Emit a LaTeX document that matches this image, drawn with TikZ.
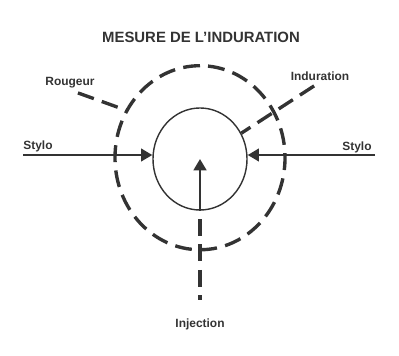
\documentclass[tikz,border=0pt]{standalone}
\usepackage{fontspec}
\setmainfont{Liberation Sans}
\usetikzlibrary{positioning, arrows.meta, shapes.geometric}

\begin{document}
\begin{tikzpicture}[
        x=0.025cm, y=-0.025cm,
        title/.style={font=\fontsize{10.6}{12}\selectfont\bfseries, text=black!80},
        lbl/.style={font=\fontsize{8.5}{10}\selectfont\bfseries, text=black!80, inner sep=1pt},
        zone/.style={ellipse, inner sep=0pt},
        dashline/.style={line width=2.4pt, draw=black!80, dash pattern=on 12pt off 6pt},
        arrow/.style={-{Triangle[length=8pt, width=9pt]}, line width=1.6pt, draw=black!80}
    ]
        \useasboundingbox (0,0) rectangle (399,355);

        % Titre
        \node[title] (titre) at (201,37) {MESURE DE L'INDURATION};

        % Zones
        \node[zone, draw=black!80, line width=1pt, minimum width=2.35cm, minimum height=2.55cm] (wheal) at (200,159) {};
        \node[zone, minimum width=4.25cm, minimum height=4.6cm] (halo) at (200,158) {};
        \draw[dashline] (halo.north) arc[x radius=2.125cm, y radius=2.3cm, start angle=90, end angle=450];

        % Etiquettes
        \node[lbl] (rougeur) at (70,83) {Rougeur};
        \node[lbl] (indur) at (320,76) {Induration};
        \node[lbl] (styloL) at (38,146) {Stylo};
        \node[lbl] (styloR) at (357,147) {Stylo};
        \node[lbl] (inj) at (200,324) {Injection};
        \coordinate (l) at (23,155);
        \coordinate (r) at (375,155);

        % Fleches
        \draw[arrow] (l) -- (l -| wheal.west);
        \draw[arrow] (r) -- (r -| wheal.east);
        \draw[arrow] (wheal.south) -- (wheal.center);

        % Renvois
        \draw[dashline, shorten <=6pt] (rougeur.south) -- (halo.147);
        \draw[dashline, shorten <=5pt] (indur.south) -- (wheal.32);
        \draw[dashline, dash phase=12pt, shorten >=12pt] (wheal.south) -- (inj.north);

    \end{tikzpicture}
\end{document}
